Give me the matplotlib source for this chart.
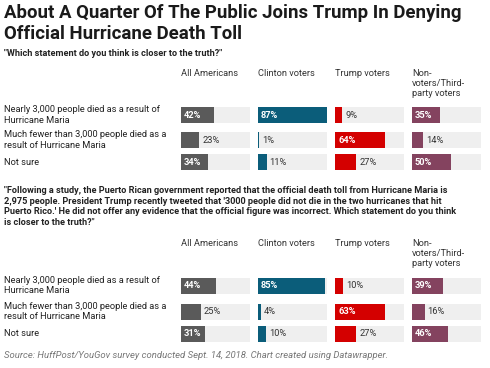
import matplotlib
matplotlib.use("Agg")
import matplotlib.pyplot as plt

plt.rcParams['font.family'] = ['Roboto', 'DejaVu Sans']

W, H = 490, 368

title = "About A Quarter Of The Public Joins Trump In Denying\nOfficial Hurricane Death Toll"
question1 = '"Which statement do you think is closer to the truth?"'
question2 = ('"Following a study, the Puerto Rican government reported that the official death toll from Hurricane Maria is\n'
             '2,975 people. President Trump recently tweeted that \'3000 people did not die in the two hurricanes that hit\n'
             'Puerto Rico.\' He did not offer any evidence that the official figure was incorrect. Which statement do you think\n'
             'is closer to the truth?"')
source = "Source: HuffPost/YouGov survey conducted Sept. 14, 2018. Chart created using Datawrapper."

groups = ["All Americans", "Clinton voters", "Trump voters", "Non-\nvoters/Third-\nparty voters"]
answers = ["Nearly 3,000 people died as a result of\nHurricane Maria",
           "Much fewer than 3,000 people died as a\nresult of Hurricane Maria",
           "Not sure"]

# percentages per group, rows follow answers
q1_all = [42, 23, 34]
q1_clinton = [87, 1, 11]
q1_trump = [9, 64, 27]
q1_other = [35, 14, 50]

q2_all = [44, 25, 31]
q2_clinton = [85, 4, 10]
q2_trump = [10, 63, 27]
q2_other = [39, 16, 46]

colors = ["#5a5a5a", "#0b5d7a", "#d40000", "#84435f"]
bg = "#efefef"
xmax = 87

fig = plt.figure(figsize=(W / 100, H / 100), dpi=100)


def fx(px):
    return px / W


def fy(py):
    return 1 - py / H


fig.text(fx(4), fy(3.5), title, fontsize=13.4, fontweight='bold', color='#1a1a1a',
         va='top', ha='left', linespacing=1.22)


def draw_chart(question, qtop, header_top, rows_y, series):
    fig.text(fx(4), fy(qtop), question, fontsize=6.6, fontweight='bold', color='#222222',
             va='top', ha='left', linespacing=1.2)
    col_x = [181, 258, 335, 412]
    col_w = 68.5
    bar_h = 15.7
    y0 = rows_y[0] - bar_h / 2 - 1
    y1 = rows_y[-1] + bar_h / 2 + 1
    for gi, (name, vals) in enumerate(zip(groups, series)):
        fig.text(fx(col_x[gi]), fy(header_top), name, fontsize=6.7, color='#333333',
                 va='top', ha='left', linespacing=1.2)
        ax = fig.add_axes([fx(col_x[gi]), fy(y1), col_w / W, (y1 - y0) / H])
        ax.set_xlim(0, xmax)
        ax.set_ylim(y1, y0)
        ax.axis('off')
        ax.barh(rows_y, [xmax] * len(vals), height=bar_h, color=bg, left=0)
        ax.barh(rows_y, vals, height=bar_h, color=colors[gi], left=0)
        pad = 3 * xmax / col_w
        for y, v in zip(rows_y, vals):
            if v >= 30:
                ax.text(pad, y, f"{v}%", fontsize=6.7, fontweight='bold', color='white',
                        va='center', ha='left')
            else:
                ax.text(v + pad, y, f"{v}%", fontsize=6.7, color='#333333',
                        va='center', ha='left')
    for y, label in zip(rows_y, answers):
        fig.text(fx(4), fy(y), label, fontsize=6.7, color='#222222', va='center',
                 ha='left', linespacing=1.15)


draw_chart(question1, 48.5, 68.5, [115, 140, 162],
           [q1_all, q1_clinton, q1_trump, q1_other])
draw_chart(question2, 186.5, 238.5, [285.7, 311.7, 334],
           [q2_all, q2_clinton, q2_trump, q2_other])

fig.text(fx(4), fy(351.5), source, fontsize=6.8, style='italic', color='#777777',
         va='top', ha='left')

fig.savefig("out.png", dpi=100)
